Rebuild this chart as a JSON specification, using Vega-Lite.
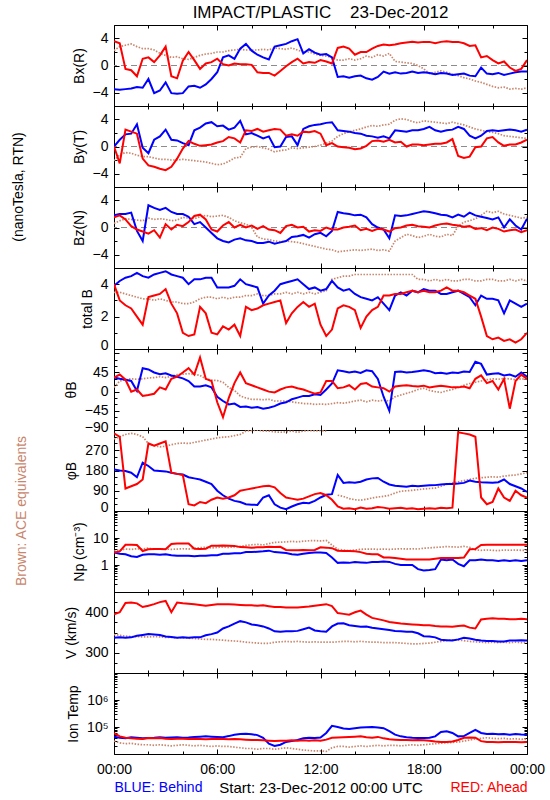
{
"$schema": "https://vega.github.io/schema/vega-lite/v6.json",
"background": "white",
"padding": {"left": 11, "top": 3, "right": 2, "bottom": 2},
"spacing": 0,
"bounds": "flush",
"config": {
  "view": {"stroke": "#000000", "strokeWidth": 1},
  "font": "Liberation Sans",
  "axis": {"domain": false, "grid": false, "labelFont": "Liberation Sans", "labelFontSize": 14, "labelColor": "#000000", "titleFont": "Liberation Sans", "titleFontSize": 14, "titleFontWeight": "normal", "titleColor": "#000000", "tickColor": "#000000", "tickWidth": 1, "labelPadding": 11, "titlePadding": 6, "labelFlush": false, "labelOverlap": false},
  "title": {"font": "Liberation Sans", "fontWeight": "normal", "fontSize": 14, "color": "#000000"}
},
"datasets": {
"bx": [
{"t":0,"b":-3.5,"r":3.6,"a":2.2},{"t":20,"b":-3.6,"r":3.3,"a":2.8},{"t":40,"b":-3.5,"r":-0.5,"a":3.0},{"t":60,"b":-3.4,"r":-0.7,"a":3.2},{"t":80,"b":-3.2,"r":-1.6,"a":2.8},{"t":100,"b":-3.3,"r":1.0,"a":2.5},{"t":120,"b":-2.0,"r":1.2,"a":2.5},{"t":140,"b":-4.1,"r":0.5,"a":2.3},{"t":160,"b":-3.7,"r":1.5,"a":1.8},{"t":180,"b":-2.5,"r":2.8,"a":1.5},
{"t":200,"b":-4.1,"r":-1.6,"a":1.2},{"t":220,"b":-4.2,"r":-1.9,"a":1.3},{"t":240,"b":-4.1,"r":0.7,"a":1.0},{"t":260,"b":-3.1,"r":2.0,"a":0.9},{"t":280,"b":-3.0,"r":0.8,"a":1.2},{"t":300,"b":-3.3,"r":-0.5,"a":1.5},{"t":320,"b":-2.8,"r":0.3,"a":1.7},{"t":340,"b":-2.0,"r":0.5,"a":1.8},{"t":360,"b":-1.0,"r":1.0,"a":2.0},{"t":380,"b":1.2,"r":0.2,"a":2.0},
{"t":400,"b":1.5,"r":0.0,"a":2.2},{"t":420,"b":1.0,"r":0.3,"a":2.3},{"t":440,"b":2.5,"r":0.2,"a":2.4},{"t":460,"b":3.2,"r":0.2,"a":2.3},{"t":480,"b":2.2,"r":0.1,"a":2.3},{"t":500,"b":1.6,"r":-1.0,"a":2.3},{"t":520,"b":1.2,"r":-1.1,"a":2.4},{"t":540,"b":0.9,"r":-1.1,"a":2.3},{"t":560,"b":2.8,"r":-1.5,"a":2.6},{"t":580,"b":3.0,"r":-0.8,"a":2.5},
{"t":600,"b":3.2,"r":-0.1,"a":2.4},{"t":620,"b":3.6,"r":0.5,"a":2.6},{"t":640,"b":3.9,"r":1.0,"a":2.3},{"t":660,"b":1.8,"r":0.3,"a":2.0},{"t":680,"b":2.4,"r":0.5,"a":2.0},{"t":700,"b":1.9,"r":0.4,"a":1.7},{"t":720,"b":1.6,"r":0.8,"a":1.5},{"t":740,"b":1.7,"r":0.6,"a":1.4},{"t":760,"b":1.2,"r":0.3,"a":1.2},{"t":780,"b":-1.7,"r":2.6,"a":0.8},
{"t":800,"b":-1.6,"r":2.8,"a":0.8},{"t":820,"b":-1.8,"r":2.5,"a":1.0},{"t":840,"b":-1.6,"r":1.6,"a":0.8},{"t":860,"b":-1.5,"r":2.0,"a":1.0},{"t":880,"b":-1.9,"r":2.0,"a":1.4},{"t":900,"b":-2.1,"r":2.5,"a":1.2},{"t":920,"b":-1.7,"r":2.9,"a":1.6},{"t":940,"b":-0.9,"r":3.1,"a":1.4},{"t":960,"b":-1.2,"r":3.0,"a":1.8},{"t":980,"b":-1.0,"r":3.1,"a":0.6},
{"t":1000,"b":-1.2,"r":3.3,"a":0.5},{"t":1020,"b":-1.1,"r":3.4,"a":0.4},{"t":1040,"b":-0.9,"r":3.5,"a":0.3},{"t":1060,"b":-1.1,"r":3.4,"a":0.0},{"t":1080,"b":-1.0,"r":3.5,"a":-0.5},{"t":1100,"b":-1.1,"r":3.5,"a":-1.2},{"t":1120,"b":-1.3,"r":3.3,"a":-1.0},{"t":1140,"b":-1.1,"r":3.5,"a":-0.8},{"t":1160,"b":-1.2,"r":3.6,"a":-1.0},{"t":1180,"b":-1.4,"r":3.5,"a":-1.3},
{"t":1200,"b":-1.3,"r":3.5,"a":-1.5},{"t":1220,"b":-1.2,"r":3.3,"a":-1.8},{"t":1240,"b":-1.5,"r":2.9,"a":-2.0},{"t":1260,"b":-1.6,"r":3.0,"a":-2.3},{"t":1280,"b":-0.3,"r":1.2,"a":-2.5},{"t":1300,"b":-1.2,"r":1.4,"a":-2.8},{"t":1320,"b":-1.3,"r":0.8,"a":-3.1},{"t":1340,"b":-1.1,"r":0.3,"a":-3.3},{"t":1360,"b":-1.4,"r":0.6,"a":-3.2},{"t":1380,"b":-1.2,"r":-0.3,"a":-3.5},
{"t":1400,"b":-1.0,"r":-0.8,"a":-3.4},{"t":1420,"b":-0.9,"r":-0.5,"a":-3.5},{"t":1440,"b":-0.9,"r":0.8,"a":-3.3}
],
"by": [
{"t":0,"b":0.0,"r":0.0,"a":-2.1},{"t":20,"b":1.0,"r":-2.5,"a":-1.2},{"t":40,"b":1.8,"r":2.5,"a":-0.9},{"t":60,"b":1.9,"r":2.2,"a":-1.0},{"t":80,"b":3.3,"r":1.9,"a":-1.3},{"t":100,"b":-0.2,"r":-1.8,"a":-1.5},{"t":120,"b":-1.0,"r":-2.8,"a":-1.5},{"t":140,"b":1.0,"r":-3.0,"a":-1.7},{"t":160,"b":1.5,"r":-3.3,"a":-1.9},{"t":180,"b":2.5,"r":-3.5,"a":-1.9},
{"t":200,"b":1.0,"r":-3.0,"a":-2.0},{"t":220,"b":0.9,"r":-1.8,"a":-2.0},{"t":240,"b":0.5,"r":-0.3,"a":-1.9},{"t":260,"b":0.2,"r":0.8,"a":-2.0},{"t":280,"b":2.4,"r":0.4,"a":-2.1},{"t":300,"b":2.8,"r":0.1,"a":-2.2},{"t":320,"b":3.4,"r":0.2,"a":-2.3},{"t":340,"b":3.6,"r":0.3,"a":-2.5},{"t":360,"b":3.0,"r":0.6,"a":-2.7},{"t":380,"b":3.1,"r":0.8,"a":-2.6},
{"t":400,"b":2.5,"r":1.4,"a":-2.2},{"t":420,"b":2.8,"r":1.2,"a":-1.7},{"t":440,"b":3.8,"r":0.6,"a":-1.6},{"t":460,"b":1.8,"r":2.4,"a":-0.3},{"t":480,"b":2.0,"r":2.3,"a":-0.1},{"t":500,"b":1.6,"r":2.6,"a":0.0},{"t":520,"b":1.2,"r":2.2,"a":-0.2},{"t":540,"b":1.5,"r":2.4,"a":-0.4},{"t":560,"b":-0.1,"r":2.6,"a":-0.8},{"t":580,"b":0.0,"r":2.5,"a":-0.6},
{"t":600,"b":1.4,"r":1.6,"a":-0.5},{"t":620,"b":1.5,"r":1.8,"a":-0.2},{"t":640,"b":0.2,"r":1.6,"a":-0.3},{"t":660,"b":2.6,"r":2.2,"a":-0.2},{"t":680,"b":3.0,"r":2.1,"a":-0.1},{"t":700,"b":3.2,"r":2.3,"a":0.0},{"t":720,"b":3.3,"r":1.9,"a":0.2},{"t":740,"b":3.5,"r":0.2,"a":0.5},{"t":760,"b":3.6,"r":0.5,"a":0.8},{"t":780,"b":2.4,"r":0.0,"a":1.5},
{"t":800,"b":2.3,"r":-0.1,"a":1.9},{"t":820,"b":2.2,"r":-0.2,"a":2.2},{"t":840,"b":2.0,"r":-0.4,"a":2.4},{"t":860,"b":1.9,"r":-0.3,"a":2.6},{"t":880,"b":1.6,"r":0.1,"a":2.9},{"t":900,"b":1.5,"r":0.8,"a":3.1},{"t":920,"b":1.3,"r":0.9,"a":3.0},{"t":940,"b":1.5,"r":0.7,"a":3.2},{"t":960,"b":1.2,"r":1.0,"a":3.3},{"t":980,"b":2.4,"r":0.6,"a":3.9},
{"t":1000,"b":2.3,"r":0.7,"a":4.1},{"t":1020,"b":2.2,"r":0.0,"a":4.0},{"t":1040,"b":2.4,"r":0.3,"a":3.7},{"t":1060,"b":2.4,"r":0.3,"a":3.5},{"t":1080,"b":2.6,"r":0.2,"a":3.8},{"t":1100,"b":2.9,"r":0.3,"a":3.7},{"t":1120,"b":2.4,"r":0.4,"a":3.6},{"t":1140,"b":2.2,"r":0.4,"a":3.5},{"t":1160,"b":2.4,"r":0.6,"a":3.4},{"t":1180,"b":2.5,"r":1.1,"a":3.6},
{"t":1200,"b":2.9,"r":-1.4,"a":3.4},{"t":1220,"b":2.6,"r":-1.7,"a":3.2},{"t":1240,"b":1.6,"r":-1.5,"a":2.9},{"t":1260,"b":1.2,"r":-0.1,"a":2.6},{"t":1280,"b":1.6,"r":0.0,"a":2.4},{"t":1300,"b":2.3,"r":1.2,"a":2.2},{"t":1320,"b":2.4,"r":1.4,"a":2.1},{"t":1340,"b":2.3,"r":0.6,"a":1.9},{"t":1360,"b":2.4,"r":0.1,"a":1.6},{"t":1380,"b":2.5,"r":0.3,"a":1.5},
{"t":1400,"b":2.4,"r":0.3,"a":1.4},{"t":1420,"b":2.2,"r":0.6,"a":1.3},{"t":1440,"b":2.5,"r":1.0,"a":1.2}
],
"bz": [
{"t":0,"b":1.8,"r":1.5,"a":0.6},{"t":20,"b":2.0,"r":1.8,"a":1.0},{"t":40,"b":2.0,"r":1.2,"a":1.3},{"t":60,"b":2.2,"r":0.2,"a":1.2},{"t":80,"b":-0.5,"r":-0.3,"a":1.1},{"t":100,"b":-2.0,"r":-0.6,"a":1.0},{"t":120,"b":3.3,"r":-0.9,"a":1.4},{"t":140,"b":2.9,"r":-0.4,"a":1.2},{"t":160,"b":2.6,"r":-1.5,"a":1.3},{"t":180,"b":2.9,"r":0.5,"a":1.2},
{"t":200,"b":2.3,"r":-0.3,"a":1.0},{"t":220,"b":2.0,"r":0.4,"a":1.1},{"t":240,"b":2.0,"r":0.2,"a":1.5},{"t":260,"b":1.6,"r":0.8,"a":1.4},{"t":280,"b":0.5,"r":1.7,"a":1.3},{"t":300,"b":0.8,"r":1.9,"a":1.6},{"t":320,"b":0.0,"r":1.2,"a":1.8},{"t":340,"b":-0.8,"r":-0.3,"a":1.6},{"t":360,"b":-1.6,"r":-0.6,"a":1.7},{"t":380,"b":-2.0,"r":0.3,"a":1.8},
{"t":400,"b":-2.2,"r":0.8,"a":1.5},{"t":420,"b":-1.8,"r":0.0,"a":1.0},{"t":440,"b":-1.6,"r":0.4,"a":0.7},{"t":460,"b":-1.9,"r":0.0,"a":0.5},{"t":480,"b":-2.0,"r":0.3,"a":0.0},{"t":500,"b":-2.3,"r":-0.2,"a":-1.4},{"t":520,"b":-2.3,"r":0.2,"a":-1.7},{"t":540,"b":-2.1,"r":-0.3,"a":-1.8},{"t":560,"b":-2.4,"r":-0.4,"a":-2.0},{"t":580,"b":-2.2,"r":-0.8,"a":-2.1},
{"t":600,"b":-2.0,"r":0.2,"a":-2.0},{"t":620,"b":-1.4,"r":0.4,"a":-2.1},{"t":640,"b":-1.3,"r":0.0,"a":-2.2},{"t":660,"b":-1.1,"r":0.1,"a":-2.4},{"t":680,"b":-1.5,"r":-0.6,"a":-2.6},{"t":700,"b":-1.0,"r":-0.4,"a":-2.8},{"t":720,"b":-0.8,"r":-0.5,"a":-3.0},{"t":740,"b":-1.3,"r":0.0,"a":-3.2},{"t":760,"b":-0.5,"r":-0.3,"a":-3.3},{"t":780,"b":2.3,"r":-0.3,"a":-3.6},
{"t":800,"b":2.1,"r":0.0,"a":-3.5},{"t":820,"b":2.0,"r":0.1,"a":-3.4},{"t":840,"b":1.8,"r":0.3,"a":-3.3},{"t":860,"b":1.9,"r":-0.4,"a":-3.4},{"t":880,"b":1.5,"r":-0.2,"a":-3.3},{"t":900,"b":0.5,"r":-0.5,"a":-3.2},{"t":920,"b":0.0,"r":-0.2,"a":-3.4},{"t":940,"b":-0.3,"r":-0.3,"a":-3.3},{"t":960,"b":-1.6,"r":-0.6,"a":-3.5},{"t":980,"b":1.8,"r":-0.1,"a":-2.0},
{"t":1000,"b":1.7,"r":0.0,"a":-1.5},{"t":1020,"b":1.8,"r":0.3,"a":-1.0},{"t":1040,"b":2.0,"r":0.4,"a":-1.2},{"t":1060,"b":2.2,"r":0.2,"a":-1.5},{"t":1080,"b":2.4,"r":0.1,"a":-1.3},{"t":1100,"b":2.3,"r":0.0,"a":-1.0},{"t":1120,"b":2.1,"r":0.3,"a":-1.3},{"t":1140,"b":1.9,"r":0.5,"a":-1.4},{"t":1160,"b":1.8,"r":0.6,"a":-1.0},{"t":1180,"b":1.5,"r":0.4,"a":-1.2},
{"t":1200,"b":1.9,"r":0.3,"a":0.2},{"t":1220,"b":1.6,"r":0.1,"a":0.8},{"t":1240,"b":2.2,"r":0.2,"a":1.0},{"t":1260,"b":1.8,"r":-0.2,"a":1.3},{"t":1280,"b":1.6,"r":-0.1,"a":1.8},{"t":1300,"b":1.4,"r":-0.4,"a":2.4},{"t":1320,"b":1.2,"r":0.0,"a":2.2},{"t":1340,"b":1.5,"r":-0.2,"a":2.4},{"t":1360,"b":0.0,"r":-0.6,"a":2.0},{"t":1380,"b":1.2,"r":-0.4,"a":1.8},
{"t":1400,"b":0.3,"r":-0.3,"a":1.6},{"t":1420,"b":-0.3,"r":-0.7,"a":1.4},{"t":1440,"b":1.3,"r":-0.4,"a":1.5}
],
"tb": [
{"t":0,"b":3.9,"r":4.0,"a":3.5},{"t":20,"b":4.2,"r":3.0,"a":3.5},{"t":40,"b":4.4,"r":2.7,"a":3.4},{"t":60,"b":4.5,"r":2.5,"a":3.3},{"t":80,"b":4.7,"r":2.0,"a":3.2},{"t":100,"b":4.5,"r":1.5,"a":3.1},{"t":120,"b":4.4,"r":3.2,"a":3.1},{"t":140,"b":4.6,"r":3.3,"a":3.0},{"t":160,"b":4.7,"r":3.4,"a":3.1},{"t":180,"b":4.8,"r":3.7,"a":3.0},
{"t":200,"b":4.6,"r":2.8,"a":2.9},{"t":220,"b":4.5,"r":2.2,"a":2.9},{"t":240,"b":4.4,"r":1.0,"a":2.8},{"t":260,"b":4.0,"r":0.8,"a":2.8},{"t":280,"b":4.3,"r":0.9,"a":2.9},{"t":300,"b":4.3,"r":2.6,"a":3.1},{"t":320,"b":4.4,"r":2.2,"a":3.2},{"t":340,"b":4.4,"r":1.0,"a":3.2},{"t":360,"b":3.8,"r":0.9,"a":3.1},{"t":380,"b":3.8,"r":1.4,"a":3.2},
{"t":400,"b":3.8,"r":1.2,"a":3.1},{"t":420,"b":3.9,"r":1.5,"a":3.2},{"t":440,"b":4.3,"r":0.8,"a":3.2},{"t":460,"b":4.0,"r":2.6,"a":3.3},{"t":480,"b":3.9,"r":2.4,"a":3.3},{"t":500,"b":3.8,"r":2.5,"a":3.4},{"t":520,"b":2.8,"r":2.7,"a":3.3},{"t":540,"b":3.3,"r":2.8,"a":3.3},{"t":560,"b":3.6,"r":2.9,"a":3.4},{"t":580,"b":4.0,"r":3.0,"a":3.4},
{"t":600,"b":4.1,"r":1.6,"a":3.5},{"t":620,"b":4.2,"r":2.2,"a":3.4},{"t":640,"b":4.3,"r":2.6,"a":3.5},{"t":660,"b":4.0,"r":2.9,"a":3.4},{"t":680,"b":3.7,"r":2.6,"a":3.5},{"t":700,"b":3.8,"r":2.8,"a":3.4},{"t":720,"b":3.6,"r":1.5,"a":3.5},{"t":740,"b":3.7,"r":0.8,"a":3.6},{"t":760,"b":4.2,"r":1.2,"a":4.3},{"t":780,"b":3.8,"r":2.5,"a":4.4},
{"t":800,"b":3.6,"r":2.7,"a":4.5},{"t":820,"b":3.7,"r":2.6,"a":4.5},{"t":840,"b":3.4,"r":2.4,"a":4.6},{"t":860,"b":3.2,"r":1.3,"a":4.6},{"t":880,"b":3.1,"r":2.0,"a":4.6},{"t":900,"b":3.0,"r":2.4,"a":4.6},{"t":920,"b":3.2,"r":2.6,"a":4.6},{"t":940,"b":2.8,"r":3.3,"a":4.6},{"t":960,"b":2.4,"r":3.3,"a":4.6},{"t":980,"b":3.3,"r":3.4,"a":4.6},
{"t":1000,"b":3.5,"r":3.4,"a":4.6},{"t":1020,"b":3.3,"r":3.5,"a":4.6},{"t":1040,"b":3.6,"r":3.6,"a":4.6},{"t":1060,"b":3.5,"r":3.5,"a":4.3},{"t":1080,"b":3.7,"r":3.6,"a":4.3},{"t":1100,"b":3.6,"r":3.5,"a":4.2},{"t":1120,"b":3.6,"r":3.5,"a":4.3},{"t":1140,"b":3.4,"r":3.6,"a":4.2},{"t":1160,"b":3.4,"r":3.8,"a":4.3},{"t":1180,"b":3.5,"r":3.6,"a":4.2},
{"t":1200,"b":3.6,"r":3.6,"a":4.2},{"t":1220,"b":3.4,"r":3.5,"a":4.3},{"t":1240,"b":3.2,"r":3.3,"a":4.3},{"t":1260,"b":2.7,"r":3.1,"a":4.2},{"t":1280,"b":3.3,"r":2.0,"a":4.2},{"t":1300,"b":3.1,"r":0.8,"a":4.3},{"t":1320,"b":3.1,"r":0.6,"a":4.3},{"t":1340,"b":3.0,"r":0.7,"a":4.2},{"t":1360,"b":2.2,"r":0.5,"a":4.2},{"t":1380,"b":3.0,"r":0.6,"a":4.3},
{"t":1400,"b":2.8,"r":0.4,"a":4.2},{"t":1420,"b":2.6,"r":0.6,"a":4.3},{"t":1440,"b":2.8,"r":1.0,"a":4.2}
],
"th": [
{"t":0,"b":33,"r":33,"a":10},{"t":20,"b":30,"r":40,"a":25},{"t":40,"b":28,"r":28,"a":28},{"t":60,"b":25,"r":0,"a":30},{"t":80,"b":2,"r":5,"a":29},{"t":100,"b":55,"r":-10,"a":30},{"t":120,"b":52,"r":-8,"a":32},{"t":140,"b":45,"r":-5,"a":33},{"t":160,"b":41,"r":10,"a":35},{"t":180,"b":43,"r":5,"a":33},
{"t":200,"b":38,"r":30,"a":36},{"t":220,"b":35,"r":35,"a":40},{"t":240,"b":31,"r":45,"a":41},{"t":260,"b":25,"r":55,"a":42},{"t":280,"b":12,"r":40,"a":41},{"t":300,"b":12,"r":80,"a":38},{"t":320,"b":15,"r":30,"a":30},{"t":340,"b":10,"r":25,"a":27},{"t":360,"b":-12,"r":-25,"a":26},{"t":380,"b":-22,"r":-60,"a":22},
{"t":400,"b":-30,"r":-15,"a":10},{"t":420,"b":-28,"r":20,"a":3},{"t":440,"b":-36,"r":45,"a":-10},{"t":460,"b":-35,"r":20,"a":-15},{"t":480,"b":-38,"r":15,"a":-18},{"t":500,"b":-36,"r":10,"a":-18},{"t":520,"b":-40,"r":5,"a":-19},{"t":540,"b":-38,"r":0,"a":-18},{"t":560,"b":-34,"r":-2,"a":-22},{"t":580,"b":-28,"r":5,"a":-22},
{"t":600,"b":-25,"r":10,"a":-22},{"t":620,"b":-18,"r":12,"a":-24},{"t":640,"b":-14,"r":8,"a":-26},{"t":660,"b":-10,"r":5,"a":-28},{"t":680,"b":-10,"r":0,"a":-28},{"t":700,"b":-6,"r":-5,"a":-30},{"t":720,"b":-8,"r":-2,"a":-29},{"t":740,"b":5,"r":25,"a":-30},{"t":760,"b":19,"r":25,"a":-28},{"t":780,"b":50,"r":8,"a":-26},
{"t":800,"b":48,"r":10,"a":-27},{"t":820,"b":45,"r":15,"a":-25},{"t":840,"b":47,"r":5,"a":-22},{"t":860,"b":44,"r":18,"a":-20},{"t":880,"b":50,"r":20,"a":-24},{"t":900,"b":48,"r":12,"a":-20},{"t":920,"b":30,"r":10,"a":-22},{"t":940,"b":-12,"r":8,"a":-20},{"t":960,"b":-45,"r":0,"a":-22},{"t":980,"b":46,"r":12,"a":-12},
{"t":1000,"b":47,"r":14,"a":-8},{"t":1020,"b":45,"r":15,"a":-4},{"t":1040,"b":46,"r":13,"a":0},{"t":1060,"b":48,"r":12,"a":5},{"t":1080,"b":50,"r":14,"a":8},{"t":1100,"b":48,"r":10,"a":3},{"t":1120,"b":43,"r":12,"a":0},{"t":1140,"b":44,"r":14,"a":-2},{"t":1160,"b":42,"r":12,"a":2},{"t":1180,"b":45,"r":10,"a":5},
{"t":1200,"b":44,"r":10,"a":10},{"t":1220,"b":47,"r":12,"a":15},{"t":1240,"b":46,"r":8,"a":19},{"t":1260,"b":70,"r":30,"a":22},{"t":1280,"b":65,"r":38,"a":25},{"t":1300,"b":40,"r":20,"a":28},{"t":1320,"b":42,"r":25,"a":30},{"t":1340,"b":43,"r":5,"a":29},{"t":1360,"b":38,"r":30,"a":31},{"t":1380,"b":40,"r":-40,"a":30},
{"t":1400,"b":35,"r":25,"a":28},{"t":1420,"b":45,"r":40,"a":30},{"t":1440,"b":35,"r":30,"a":29}
],
"ph": [
{"t":0,"b":185,"r":345,"a":320},{"t":20,"b":180,"r":330,"a":330},{"t":40,"b":178,"r":100,"a":340},{"t":60,"b":170,"r":110,"a":345},{"t":80,"b":150,"r":120,"a":340},{"t":100,"b":215,"r":140,"a":330},{"t":120,"b":200,"r":300,"a":300},{"t":140,"b":180,"r":290,"a":290},{"t":160,"b":178,"r":300,"a":285},{"t":180,"b":176,"r":310,"a":288},
{"t":200,"b":170,"r":170,"a":295},{"t":220,"b":165,"r":165,"a":300},{"t":240,"b":162,"r":160,"a":302},{"t":260,"b":150,"r":30,"a":300},{"t":280,"b":145,"r":25,"a":305},{"t":300,"b":140,"r":40,"a":310},{"t":320,"b":130,"r":35,"a":315},{"t":340,"b":120,"r":50,"a":320},{"t":360,"b":90,"r":60,"a":325},{"t":380,"b":70,"r":55,"a":328},
{"t":400,"b":55,"r":60,"a":330},{"t":420,"b":45,"r":70,"a":335},{"t":440,"b":40,"r":90,"a":340},{"t":460,"b":30,"r":95,"a":355},{"t":480,"b":28,"r":100,"a":358},{"t":500,"b":27,"r":105,"a":360},{"t":520,"b":60,"r":110,"a":356},{"t":540,"b":70,"r":112,"a":355},{"t":560,"b":30,"r":105,"a":352},{"t":580,"b":15,"r":80,"a":350},
{"t":600,"b":8,"r":60,"a":352},{"t":620,"b":20,"r":55,"a":355},{"t":640,"b":30,"r":50,"a":350},{"t":660,"b":37,"r":55,"a":355},{"t":680,"b":35,"r":65,"a":358},{"t":700,"b":45,"r":75,"a":356},{"t":720,"b":60,"r":80,"a":358},{"t":740,"b":72,"r":70,"a":355},{"t":760,"b":75,"r":50,"a":null},{"t":780,"b":160,"r":20,"a":70},
{"t":800,"b":125,"r":10,"a":65},{"t":820,"b":128,"r":12,"a":55},{"t":840,"b":126,"r":8,"a":50},{"t":860,"b":130,"r":15,"a":48},{"t":880,"b":140,"r":10,"a":52},{"t":900,"b":145,"r":12,"a":58},{"t":920,"b":147,"r":18,"a":62},{"t":940,"b":130,"r":15,"a":65},{"t":960,"b":118,"r":10,"a":70},{"t":980,"b":112,"r":12,"a":80},
{"t":1000,"b":110,"r":14,"a":88},{"t":1020,"b":108,"r":10,"a":90},{"t":1040,"b":112,"r":12,"a":92},{"t":1060,"b":110,"r":8,"a":95},{"t":1080,"b":112,"r":10,"a":98},{"t":1100,"b":114,"r":12,"a":100},{"t":1120,"b":115,"r":10,"a":102},{"t":1140,"b":118,"r":14,"a":110},{"t":1160,"b":120,"r":12,"a":118},{"t":1180,"b":120,"r":15,"a":125},
{"t":1200,"b":122,"r":350,"a":130},{"t":1220,"b":125,"r":345,"a":135},{"t":1240,"b":135,"r":340,"a":140},{"t":1260,"b":130,"r":330,"a":145},{"t":1280,"b":128,"r":60,"a":148},{"t":1300,"b":127,"r":30,"a":150},{"t":1320,"b":126,"r":40,"a":152},{"t":1340,"b":128,"r":100,"a":150},{"t":1360,"b":140,"r":60,"a":155},{"t":1380,"b":120,"r":45,"a":158},
{"t":1400,"b":110,"r":90,"a":160},{"t":1420,"b":100,"r":70,"a":165},{"t":1440,"b":85,"r":60,"a":170}
],
"np": [
{"t":0,"b":2.9,"r":2.9,"a":3.3},{"t":20,"b":2.6,"r":3.2,"a":3.5},{"t":40,"b":2.5,"r":5.6,"a":3.9},{"t":60,"b":2.1,"r":5.6,"a":3.8},{"t":80,"b":2.0,"r":5.5,"a":4.0},{"t":100,"b":2.4,"r":3.3,"a":3.9},{"t":120,"b":2.5,"r":3.8,"a":4.2},{"t":140,"b":2.5,"r":3.9,"a":3.8},{"t":160,"b":2.4,"r":3.9,"a":3.9},{"t":180,"b":2.5,"r":3.8,"a":3.9},
{"t":200,"b":2.3,"r":6.0,"a":3.8},{"t":220,"b":2.2,"r":6.3,"a":3.9},{"t":240,"b":2.2,"r":6.3,"a":4.0},{"t":260,"b":2.2,"r":6.2,"a":3.9},{"t":280,"b":2.1,"r":4.0,"a":4.2},{"t":300,"b":2.2,"r":3.9,"a":4.4},{"t":320,"b":2.2,"r":4.0,"a":4.5},{"t":340,"b":2.3,"r":5.2,"a":4.3},{"t":360,"b":2.3,"r":5.2,"a":4.5},{"t":380,"b":2.6,"r":5.3,"a":4.6},
{"t":400,"b":2.6,"r":5.2,"a":4.5},{"t":420,"b":2.7,"r":5.1,"a":4.7},{"t":440,"b":2.7,"r":4.6,"a":4.9},{"t":460,"b":3.0,"r":4.5,"a":5.3},{"t":480,"b":3.0,"r":4.4,"a":5.6},{"t":500,"b":3.1,"r":4.5,"a":5.8},{"t":520,"b":3.2,"r":4.5,"a":5.5},{"t":540,"b":3.4,"r":4.7,"a":6.2},{"t":560,"b":3.0,"r":4.6,"a":6.9},{"t":580,"b":2.9,"r":4.7,"a":7.0},
{"t":600,"b":2.8,"r":3.6,"a":7.2},{"t":620,"b":2.5,"r":3.5,"a":7.5},{"t":640,"b":2.4,"r":3.5,"a":7.2},{"t":660,"b":2.6,"r":3.6,"a":7.6},{"t":680,"b":2.8,"r":3.5,"a":7.9},{"t":700,"b":2.9,"r":3.6,"a":8.0},{"t":720,"b":2.9,"r":4.5,"a":7.8},{"t":740,"b":2.8,"r":4.4,"a":8.1},{"t":760,"b":1.9,"r":4.2,"a":5.5},{"t":780,"b":1.2,"r":3.4,"a":3.8},
{"t":800,"b":1.25,"r":3.3,"a":3.6},{"t":820,"b":1.2,"r":3.3,"a":3.4},{"t":840,"b":1.3,"r":3.2,"a":3.6},{"t":860,"b":1.25,"r":3.0,"a":3.8},{"t":880,"b":1.2,"r":2.6,"a":3.9},{"t":900,"b":1.3,"r":2.5,"a":3.9},{"t":920,"b":1.3,"r":2.5,"a":3.8},{"t":940,"b":1.35,"r":1.9,"a":3.9},{"t":960,"b":1.3,"r":1.9,"a":3.8},{"t":980,"b":1.1,"r":1.8,"a":3.9},
{"t":1000,"b":1.0,"r":1.7,"a":4.0},{"t":1020,"b":1.0,"r":1.6,"a":3.9},{"t":1040,"b":1.0,"r":1.6,"a":4.0},{"t":1060,"b":0.7,"r":1.6,"a":3.9},{"t":1080,"b":0.63,"r":1.6,"a":4.2},{"t":1100,"b":0.65,"r":1.6,"a":4.3},{"t":1120,"b":0.7,"r":1.7,"a":4.5},{"t":1140,"b":1.6,"r":1.8,"a":4.6},{"t":1160,"b":1.5,"r":1.8,"a":4.8},{"t":1180,"b":1.6,"r":1.8,"a":4.7},
{"t":1200,"b":1.1,"r":1.8,"a":4.6},{"t":1220,"b":0.9,"r":1.9,"a":4.9},{"t":1240,"b":1.5,"r":3.8,"a":4.5},{"t":1260,"b":1.5,"r":3.9,"a":3.6},{"t":1280,"b":1.6,"r":5.5,"a":3.5},{"t":1300,"b":1.5,"r":5.6,"a":3.6},{"t":1320,"b":1.5,"r":5.6,"a":3.5},{"t":1340,"b":1.4,"r":5.6,"a":3.4},{"t":1360,"b":1.5,"r":5.6,"a":3.6},{"t":1380,"b":1.4,"r":5.6,"a":3.5},
{"t":1400,"b":1.5,"r":5.6,"a":3.6},{"t":1420,"b":1.4,"r":5.6,"a":3.5},{"t":1440,"b":1.5,"r":5.6,"a":3.5}
],
"vv": [
{"t":0,"b":337,"r":395,"a":345},{"t":20,"b":338,"r":400,"a":343},{"t":40,"b":337,"r":423,"a":341},{"t":60,"b":338,"r":424,"a":340},{"t":80,"b":342,"r":422,"a":340},{"t":100,"b":344,"r":413,"a":339},{"t":120,"b":346,"r":416,"a":339},{"t":140,"b":345,"r":420,"a":340},{"t":160,"b":344,"r":425,"a":339},{"t":180,"b":340,"r":428,"a":338},
{"t":200,"b":339,"r":400,"a":338},{"t":220,"b":337,"r":424,"a":337},{"t":240,"b":338,"r":422,"a":337},{"t":260,"b":337,"r":421,"a":336},{"t":280,"b":338,"r":420,"a":335},{"t":300,"b":338,"r":418,"a":334},{"t":320,"b":343,"r":416,"a":333},{"t":340,"b":346,"r":418,"a":333},{"t":360,"b":350,"r":420,"a":332},{"t":380,"b":360,"r":420,"a":331},
{"t":400,"b":365,"r":420,"a":330},{"t":420,"b":372,"r":419,"a":329},{"t":440,"b":378,"r":418,"a":328},{"t":460,"b":375,"r":417,"a":326},{"t":480,"b":370,"r":417,"a":325},{"t":500,"b":368,"r":416,"a":324},{"t":520,"b":365,"r":417,"a":323},{"t":540,"b":360,"r":415,"a":323},{"t":560,"b":353,"r":413,"a":326},{"t":580,"b":352,"r":413,"a":327},
{"t":600,"b":353,"r":412,"a":328},{"t":620,"b":353,"r":412,"a":327},{"t":640,"b":354,"r":412,"a":328},{"t":660,"b":358,"r":413,"a":327},{"t":680,"b":362,"r":414,"a":326},{"t":700,"b":355,"r":416,"a":327},{"t":720,"b":353,"r":418,"a":326},{"t":740,"b":352,"r":420,"a":326},{"t":760,"b":365,"r":415,"a":326},{"t":780,"b":372,"r":398,"a":327},
{"t":800,"b":373,"r":396,"a":328},{"t":820,"b":368,"r":394,"a":328},{"t":840,"b":366,"r":400,"a":327},{"t":860,"b":364,"r":404,"a":328},{"t":880,"b":365,"r":394,"a":327},{"t":900,"b":362,"r":386,"a":326},{"t":920,"b":360,"r":383,"a":326},{"t":940,"b":358,"r":380,"a":325},{"t":960,"b":356,"r":376,"a":325},{"t":980,"b":354,"r":374,"a":325},
{"t":1000,"b":353,"r":372,"a":324},{"t":1020,"b":352,"r":371,"a":323},{"t":1040,"b":352,"r":370,"a":322},{"t":1060,"b":348,"r":369,"a":322},{"t":1080,"b":341,"r":368,"a":323},{"t":1100,"b":340,"r":368,"a":324},{"t":1120,"b":338,"r":366,"a":326},{"t":1140,"b":332,"r":365,"a":328},{"t":1160,"b":331,"r":365,"a":330},{"t":1180,"b":330,"r":364,"a":332},
{"t":1200,"b":333,"r":366,"a":331},{"t":1220,"b":337,"r":367,"a":330},{"t":1240,"b":335,"r":362,"a":328},{"t":1260,"b":332,"r":360,"a":327},{"t":1280,"b":330,"r":382,"a":326},{"t":1300,"b":329,"r":384,"a":325},{"t":1320,"b":329,"r":385,"a":326},{"t":1340,"b":328,"r":384,"a":325},{"t":1360,"b":328,"r":384,"a":326},{"t":1380,"b":330,"r":383,"a":325},
{"t":1400,"b":330,"r":383,"a":326},{"t":1420,"b":331,"r":384,"a":325},{"t":1440,"b":330,"r":383,"a":326}
],
"tt": [
{"t":0,"b":44000,"r":60000,"a":30000},{"t":20,"b":40000,"r":45000,"a":26000},{"t":40,"b":38000,"r":40000,"a":24000},{"t":60,"b":42000,"r":38000,"a":25000},{"t":80,"b":40000,"r":37000,"a":23000},{"t":100,"b":38000,"r":36000,"a":22000},{"t":120,"b":39000,"r":39000,"a":22000},{"t":140,"b":40000,"r":38000,"a":21000},{"t":160,"b":42000,"r":39000,"a":22000},{"t":180,"b":40000,"r":37000,"a":21000},
{"t":200,"b":41000,"r":36000,"a":20000},{"t":220,"b":42000,"r":37000,"a":21000},{"t":240,"b":40000,"r":37000,"a":22000},{"t":260,"b":41000,"r":36000,"a":21000},{"t":280,"b":43000,"r":37000,"a":20000},{"t":300,"b":44000,"r":36000,"a":21000},{"t":320,"b":45000,"r":35000,"a":20000},{"t":340,"b":44000,"r":36000,"a":19000},{"t":360,"b":43000,"r":37000,"a":20000},{"t":380,"b":42000,"r":36000,"a":19000},
{"t":400,"b":46000,"r":35000,"a":19000},{"t":420,"b":52000,"r":36000,"a":18000},{"t":440,"b":55000,"r":35000,"a":17000},{"t":460,"b":56000,"r":34000,"a":16000},{"t":480,"b":54000,"r":33000,"a":16000},{"t":500,"b":50000,"r":33000,"a":15000},{"t":520,"b":40000,"r":32000,"a":16000},{"t":540,"b":24000,"r":31000,"a":16000},{"t":560,"b":20000,"r":30000,"a":15000},{"t":580,"b":22000,"r":31000,"a":16000},
{"t":600,"b":28000,"r":31000,"a":17000},{"t":620,"b":30000,"r":32000,"a":16000},{"t":640,"b":33000,"r":31000,"a":15000},{"t":660,"b":38000,"r":32000,"a":14000},{"t":680,"b":40000,"r":31000,"a":13500},{"t":700,"b":39000,"r":32000,"a":13000},{"t":720,"b":41000,"r":31000,"a":13000},{"t":740,"b":60000,"r":34000,"a":12500},{"t":760,"b":110000,"r":40000,"a":17000},{"t":780,"b":100000,"r":41000,"a":19000},
{"t":800,"b":88000,"r":42000,"a":19000},{"t":820,"b":85000,"r":43000,"a":18000},{"t":840,"b":90000,"r":44000,"a":19000},{"t":860,"b":95000,"r":45000,"a":20000},{"t":880,"b":98000,"r":42000,"a":19000},{"t":900,"b":100000,"r":40000,"a":20000},{"t":920,"b":95000,"r":43000,"a":21000},{"t":940,"b":90000,"r":38000,"a":20000},{"t":960,"b":70000,"r":35000,"a":21000},{"t":980,"b":52000,"r":34000,"a":21000},
{"t":1000,"b":45000,"r":33000,"a":20000},{"t":1020,"b":42000,"r":33000,"a":21000},{"t":1040,"b":40000,"r":32000,"a":22000},{"t":1060,"b":39000,"r":33000,"a":21000},{"t":1080,"b":39000,"r":32000,"a":22000},{"t":1100,"b":40000,"r":31000,"a":23000},{"t":1120,"b":45000,"r":29000,"a":24000},{"t":1140,"b":65000,"r":28000,"a":25000},{"t":1160,"b":70000,"r":28000,"a":26000},{"t":1180,"b":60000,"r":29000,"a":27000},
{"t":1200,"b":45000,"r":33000,"a":28000},{"t":1220,"b":46000,"r":40000,"a":30000},{"t":1240,"b":60000,"r":41000,"a":33000},{"t":1260,"b":78000,"r":40000,"a":36000},{"t":1280,"b":60000,"r":30000,"a":38000},{"t":1300,"b":55000,"r":28000,"a":40000},{"t":1320,"b":56000,"r":28000,"a":38000},{"t":1340,"b":54000,"r":27000,"a":37000},{"t":1360,"b":55000,"r":28000,"a":38000},{"t":1380,"b":52000,"r":28000,"a":36000},
{"t":1400,"b":55000,"r":28000,"a":37000},{"t":1420,"b":53000,"r":27000,"a":35000},{"t":1440,"b":52000,"r":28000,"a":36000}
]
},
"vconcat": [
{
 "width": 413, "height": 81, "data": {"name": "bx"},
 "title": {"text": "IMPACT/PLASTIC\u00a0\u00a0\u00a0 23-Dec-2012", "anchor": "middle", "frame": "group", "fontSize": 17, "offset": -3.5},
 "layer": [
  {"mark": {"type": "rule", "color": "#8c8c8c", "strokeDash": [6, 4]}, "encoding": {"y": {"datum": 0, "type": "quantitative", "scale": {"domain": [-6, 6]}, "axis": null}}},
  {"mark": {"type": "line", "color": "#c8866c", "strokeWidth": 1.7, "strokeDash": [1.5, 1.5], "clip": true}, "encoding": {"x": {"field": "t", "type": "quantitative", "scale": {"domain": [0, 1440]}, "axis": null}, "y": {"field": "a", "type": "quantitative", "scale": {"domain": [-6, 6]}, "axis": null}}},
  {"transform": [{"fold": ["b", "r"], "as": ["s", "v"]}], "mark": {"type": "line", "strokeWidth": 2, "clip": true},
   "encoding": {
    "x": {"field": "t", "type": "quantitative", "scale": {"domain": [0, 1440]}, "axis": {"orient": "bottom", "values": [0,120,240,360,480,600,720,840,960,1080,1200,1320,1440], "labels": false, "title": null, "tickSize": {"expr": "datum.value % 360 === 0 ? -5 : -3"}}},
    "y": {"field": "v", "type": "quantitative", "scale": {"domain": [-6, 6]}, "axis": {"orient": "left", "values": [-6,-4,-2,0,2,4,6], "title": "Bx(R)", "tickSize": {"expr": "datum.value % 4 === 0 ? -5 : -3"}, "labelExpr": "datum.value % 4 === 0 && abs(datum.value) < 6 ? datum.label : ''"}},
    "color": {"field": "s", "type": "nominal", "scale": {"domain": ["b", "r"], "range": ["#0000ff", "#ff0000"]}, "legend": null}}},
  {"mark": {"type": "point", "opacity": 0}, "encoding": {
    "x": {"field": "t", "type": "quantitative", "scale": {"domain": [0, 1440]}, "axis": {"orient": "top", "values": [0,120,240,360,480,600,720,840,960,1080,1200,1320,1440], "labels": false, "title": null, "tickSize": {"expr": "datum.value % 360 === 0 ? -5 : -3"}}},
    "y": {"field": "a", "type": "quantitative", "scale": {"domain": [-6, 6]}, "axis": {"orient": "right", "values": [-6,-4,-2,0,2,4,6], "labels": false, "title": null, "tickSize": {"expr": "datum.value % 4 === 0 ? -5 : -3"}}}}}
 ],
 "resolve": {"axis": {"x": "independent", "y": "independent"}}
},
{
 "width": 413, "height": 81, "data": {"name": "by"},
 "title": {"text": "(nanoTesla, RTN)", "orient": "left", "anchor": "middle", "dx": -40.5, "offset": 46, "fontSize": 14},
 "layer": [
  {"mark": {"type": "rule", "color": "#8c8c8c", "strokeDash": [6, 4]}, "encoding": {"y": {"datum": 0, "type": "quantitative", "scale": {"domain": [-6, 6]}, "axis": null}}},
  {"mark": {"type": "line", "color": "#c8866c", "strokeWidth": 1.7, "strokeDash": [1.5, 1.5], "clip": true}, "encoding": {"x": {"field": "t", "type": "quantitative", "scale": {"domain": [0, 1440]}, "axis": null}, "y": {"field": "a", "type": "quantitative", "scale": {"domain": [-6, 6]}, "axis": null}}},
  {"transform": [{"fold": ["b", "r"], "as": ["s", "v"]}], "mark": {"type": "line", "strokeWidth": 2, "clip": true},
   "encoding": {
    "x": {"field": "t", "type": "quantitative", "scale": {"domain": [0, 1440]}, "axis": {"orient": "bottom", "values": [0,120,240,360,480,600,720,840,960,1080,1200,1320,1440], "labels": false, "title": null, "tickSize": {"expr": "datum.value % 360 === 0 ? -5 : -3"}}},
    "y": {"field": "v", "type": "quantitative", "scale": {"domain": [-6, 6]}, "axis": {"orient": "left", "values": [-6,-4,-2,0,2,4,6], "title": "By(T)", "tickSize": {"expr": "datum.value % 4 === 0 ? -5 : -3"}, "labelExpr": "datum.value % 4 === 0 && abs(datum.value) < 6 ? datum.label : ''"}},
    "color": {"field": "s", "type": "nominal", "scale": {"domain": ["b", "r"], "range": ["#0000ff", "#ff0000"]}, "legend": null}}},
  {"mark": {"type": "point", "opacity": 0}, "encoding": {
    "x": {"field": "t", "type": "quantitative", "scale": {"domain": [0, 1440]}, "axis": {"orient": "top", "values": [0,120,240,360,480,600,720,840,960,1080,1200,1320,1440], "labels": false, "title": null, "tickSize": {"expr": "datum.value % 360 === 0 ? -5 : -3"}}},
    "y": {"field": "a", "type": "quantitative", "scale": {"domain": [-6, 6]}, "axis": {"orient": "right", "values": [-6,-4,-2,0,2,4,6], "labels": false, "title": null, "tickSize": {"expr": "datum.value % 4 === 0 ? -5 : -3"}}}}}
 ],
 "resolve": {"axis": {"x": "independent", "y": "independent"}}
},
{
 "width": 413, "height": 81, "data": {"name": "bz"},
 "layer": [
  {"mark": {"type": "rule", "color": "#8c8c8c", "strokeDash": [6, 4]}, "encoding": {"y": {"datum": 0, "type": "quantitative", "scale": {"domain": [-6, 6]}, "axis": null}}},
  {"mark": {"type": "line", "color": "#c8866c", "strokeWidth": 1.7, "strokeDash": [1.5, 1.5], "clip": true}, "encoding": {"x": {"field": "t", "type": "quantitative", "scale": {"domain": [0, 1440]}, "axis": null}, "y": {"field": "a", "type": "quantitative", "scale": {"domain": [-6, 6]}, "axis": null}}},
  {"transform": [{"fold": ["b", "r"], "as": ["s", "v"]}], "mark": {"type": "line", "strokeWidth": 2, "clip": true},
   "encoding": {
    "x": {"field": "t", "type": "quantitative", "scale": {"domain": [0, 1440]}, "axis": {"orient": "bottom", "values": [0,120,240,360,480,600,720,840,960,1080,1200,1320,1440], "labels": false, "title": null, "tickSize": {"expr": "datum.value % 360 === 0 ? -5 : -3"}}},
    "y": {"field": "v", "type": "quantitative", "scale": {"domain": [-6, 6]}, "axis": {"orient": "left", "values": [-6,-4,-2,0,2,4,6], "title": "Bz(N)", "tickSize": {"expr": "datum.value % 4 === 0 ? -5 : -3"}, "labelExpr": "datum.value % 4 === 0 && abs(datum.value) < 6 ? datum.label : ''"}},
    "color": {"field": "s", "type": "nominal", "scale": {"domain": ["b", "r"], "range": ["#0000ff", "#ff0000"]}, "legend": null}}},
  {"mark": {"type": "point", "opacity": 0}, "encoding": {
    "x": {"field": "t", "type": "quantitative", "scale": {"domain": [0, 1440]}, "axis": {"orient": "top", "values": [0,120,240,360,480,600,720,840,960,1080,1200,1320,1440], "labels": false, "title": null, "tickSize": {"expr": "datum.value % 360 === 0 ? -5 : -3"}}},
    "y": {"field": "a", "type": "quantitative", "scale": {"domain": [-6, 6]}, "axis": {"orient": "right", "values": [-6,-4,-2,0,2,4,6], "labels": false, "title": null, "tickSize": {"expr": "datum.value % 4 === 0 ? -5 : -3"}}}}}
 ],
 "resolve": {"axis": {"x": "independent", "y": "independent"}}
},
{
 "width": 413, "height": 81, "data": {"name": "tb"},
 "layer": [
  {"mark": {"type": "line", "color": "#c8866c", "strokeWidth": 1.7, "strokeDash": [1.5, 1.5], "clip": true}, "encoding": {"x": {"field": "t", "type": "quantitative", "scale": {"domain": [0, 1440]}, "axis": null}, "y": {"field": "a", "type": "quantitative", "scale": {"domain": [0, 5]}, "axis": null}}},
  {"transform": [{"fold": ["b", "r"], "as": ["s", "v"]}], "mark": {"type": "line", "strokeWidth": 2, "clip": true},
   "encoding": {
    "x": {"field": "t", "type": "quantitative", "scale": {"domain": [0, 1440]}, "axis": {"orient": "bottom", "values": [0,120,240,360,480,600,720,840,960,1080,1200,1320,1440], "labels": false, "title": null, "tickSize": {"expr": "datum.value % 360 === 0 ? -5 : -3"}}},
    "y": {"field": "v", "type": "quantitative", "scale": {"domain": [0, 5]}, "axis": {"orient": "left", "values": [0,1,2,3,4,5], "title": "total B", "labelOffset": {"expr": "datum.value === 0 ? -4 : 0"}, "tickSize": {"expr": "datum.value % 2 === 0 ? -5 : -3"}, "labelExpr": "datum.value % 2 === 0 ? datum.label : ''"}},
    "color": {"field": "s", "type": "nominal", "scale": {"domain": ["b", "r"], "range": ["#0000ff", "#ff0000"]}, "legend": null}}},
  {"mark": {"type": "point", "opacity": 0}, "encoding": {
    "x": {"field": "t", "type": "quantitative", "scale": {"domain": [0, 1440]}, "axis": {"orient": "top", "values": [0,120,240,360,480,600,720,840,960,1080,1200,1320,1440], "labels": false, "title": null, "tickSize": {"expr": "datum.value % 360 === 0 ? -5 : -3"}}},
    "y": {"field": "a", "type": "quantitative", "scale": {"domain": [0, 5]}, "axis": {"orient": "right", "values": [0,1,2,3,4,5], "labels": false, "title": null, "tickSize": {"expr": "datum.value % 2 === 0 ? -5 : -3"}}}}}
 ],
 "resolve": {"axis": {"x": "independent", "y": "independent"}}
},
{
 "width": 413, "height": 81, "data": {"name": "th"},
 "layer": [
  {"mark": {"type": "line", "color": "#c8866c", "strokeWidth": 1.7, "strokeDash": [1.5, 1.5], "clip": true}, "encoding": {"x": {"field": "t", "type": "quantitative", "scale": {"domain": [0, 1440]}, "axis": null}, "y": {"field": "a", "type": "quantitative", "scale": {"domain": [-90, 100]}, "axis": null}}},
  {"transform": [{"fold": ["b", "r"], "as": ["s", "v"]}], "mark": {"type": "line", "strokeWidth": 2, "clip": true},
   "encoding": {
    "x": {"field": "t", "type": "quantitative", "scale": {"domain": [0, 1440]}, "axis": {"orient": "bottom", "values": [0,120,240,360,480,600,720,840,960,1080,1200,1320,1440], "labels": false, "title": null, "tickSize": {"expr": "datum.value % 360 === 0 ? -5 : -3"}}},
    "y": {"field": "v", "type": "quantitative", "scale": {"domain": [-90, 100]}, "axis": {"orient": "left", "values": [-90,-75,-60,-45,-30,-15,0,15,30,45,60,75,90], "title": "θB", "labelOffset": {"expr": "datum.value === -90 ? -3 : 0"}, "tickSize": {"expr": "datum.value % 45 === 0 ? -5 : -3"}, "labelExpr": "datum.value % 45 === 0 && datum.value < 90 ? datum.label : ''"}},
    "color": {"field": "s", "type": "nominal", "scale": {"domain": ["b", "r"], "range": ["#0000ff", "#ff0000"]}, "legend": null}}},
  {"mark": {"type": "point", "opacity": 0}, "encoding": {
    "x": {"field": "t", "type": "quantitative", "scale": {"domain": [0, 1440]}, "axis": {"orient": "top", "values": [0,120,240,360,480,600,720,840,960,1080,1200,1320,1440], "labels": false, "title": null, "tickSize": {"expr": "datum.value % 360 === 0 ? -5 : -3"}}},
    "y": {"field": "a", "type": "quantitative", "scale": {"domain": [-90, 100]}, "axis": {"orient": "right", "values": [-90,-75,-60,-45,-30,-15,0,15,30,45,60,75,90], "labels": false, "title": null, "tickSize": {"expr": "datum.value % 45 === 0 ? -5 : -3"}}}}}
 ],
 "resolve": {"axis": {"x": "independent", "y": "independent"}}
},
{
 "width": 413, "height": 81, "data": {"name": "ph"},
 "title": {"text": "Brown: ACE equivalents", "orient": "left", "anchor": "middle", "dx": -40.5, "offset": 36, "fontSize": 14, "color": "#c8866c"},
 "layer": [
  {"mark": {"type": "line", "color": "#c8866c", "strokeWidth": 1.7, "strokeDash": [1.5, 1.5], "clip": true, "invalid": "break-paths-show-domains"}, "encoding": {"x": {"field": "t", "type": "quantitative", "scale": {"domain": [0, 1440]}, "axis": null}, "y": {"field": "a", "type": "quantitative", "scale": {"domain": [0, 360]}, "axis": null}}},
  {"transform": [{"fold": ["b", "r"], "as": ["s", "v"]}], "mark": {"type": "line", "strokeWidth": 2, "clip": true},
   "encoding": {
    "x": {"field": "t", "type": "quantitative", "scale": {"domain": [0, 1440]}, "axis": {"orient": "bottom", "values": [0,120,240,360,480,600,720,840,960,1080,1200,1320,1440], "labels": false, "title": null, "tickSize": {"expr": "datum.value % 360 === 0 ? -5 : -3"}}},
    "y": {"field": "v", "type": "quantitative", "scale": {"domain": [0, 360]}, "axis": {"orient": "left", "values": [0,30,60,90,120,150,180,210,240,270,300,330,360], "title": "φB", "labelOffset": {"expr": "datum.value === 0 ? -3.5 : 0"}, "tickSize": {"expr": "datum.value % 90 === 0 ? -5 : -3"}, "labelExpr": "datum.value % 90 === 0 && datum.value < 360 ? datum.label : ''"}},
    "color": {"field": "s", "type": "nominal", "scale": {"domain": ["b", "r"], "range": ["#0000ff", "#ff0000"]}, "legend": null}}},
  {"mark": {"type": "point", "opacity": 0}, "encoding": {
    "x": {"field": "t", "type": "quantitative", "scale": {"domain": [0, 1440]}, "axis": {"orient": "top", "values": [0,120,240,360,480,600,720,840,960,1080,1200,1320,1440], "labels": false, "title": null, "tickSize": {"expr": "datum.value % 360 === 0 ? -5 : -3"}}},
    "y": {"field": "b", "type": "quantitative", "scale": {"domain": [0, 360]}, "axis": {"orient": "right", "values": [0,30,60,90,120,150,180,210,240,270,300,330,360], "labels": false, "title": null, "tickSize": {"expr": "datum.value % 90 === 0 ? -5 : -3"}}}}}
 ],
 "resolve": {"axis": {"x": "independent", "y": "independent"}}
},
{
 "width": 413, "height": 81, "data": {"name": "np"},
 "layer": [
  {"mark": {"type": "line", "color": "#c8866c", "strokeWidth": 1.7, "strokeDash": [1.5, 1.5], "clip": true}, "encoding": {"x": {"field": "t", "type": "quantitative", "scale": {"domain": [0, 1440]}, "axis": null}, "y": {"field": "a", "type": "quantitative", "scale": {"type": "log", "domain": [0.1, 100]}, "axis": null}}},
  {"transform": [{"fold": ["b", "r"], "as": ["s", "v"]}], "mark": {"type": "line", "strokeWidth": 2, "clip": true},
   "encoding": {
    "x": {"field": "t", "type": "quantitative", "scale": {"domain": [0, 1440]}, "axis": {"orient": "bottom", "values": [0,120,240,360,480,600,720,840,960,1080,1200,1320,1440], "labels": false, "title": null, "tickSize": {"expr": "datum.value % 360 === 0 ? -5 : -3"}}},
    "y": {"field": "v", "type": "quantitative", "scale": {"type": "log", "domain": [0.1, 100]}, "axis": {"orient": "left", "values": [0.1,0.2,0.3,0.4,0.5,0.6,0.7,0.8,0.9,1,2,3,4,5,6,7,8,9,10,20,30,40,50,60,70,80,90,100], "title": "Np (cm⁻³)", "tickSize": {"expr": "abs(log(datum.value)/LN10 - round(log(datum.value)/LN10)) < 0.001 ? -5 : -3"}, "labelExpr": "datum.value === 1 ? '1' : datum.value === 10 ? '10' : ''"}},
    "color": {"field": "s", "type": "nominal", "scale": {"domain": ["b", "r"], "range": ["#0000ff", "#ff0000"]}, "legend": null}}},
  {"mark": {"type": "point", "opacity": 0}, "encoding": {
    "x": {"field": "t", "type": "quantitative", "scale": {"domain": [0, 1440]}, "axis": {"orient": "top", "values": [0,120,240,360,480,600,720,840,960,1080,1200,1320,1440], "labels": false, "title": null, "tickSize": {"expr": "datum.value % 360 === 0 ? -5 : -3"}}},
    "y": {"field": "a", "type": "quantitative", "scale": {"type": "log", "domain": [0.1, 100]}, "axis": {"orient": "right", "values": [0.1,0.2,0.3,0.4,0.5,0.6,0.7,0.8,0.9,1,2,3,4,5,6,7,8,9,10,20,30,40,50,60,70,80,90,100], "labels": false, "title": null, "tickSize": {"expr": "abs(log(datum.value)/LN10 - round(log(datum.value)/LN10)) < 0.001 ? -5 : -3"}}}}}
 ],
 "resolve": {"axis": {"x": "independent", "y": "independent"}}
},
{
 "width": 413, "height": 81, "data": {"name": "vv"},
 "layer": [
  {"mark": {"type": "line", "color": "#c8866c", "strokeWidth": 1.7, "strokeDash": [1.5, 1.5], "clip": true}, "encoding": {"x": {"field": "t", "type": "quantitative", "scale": {"domain": [0, 1440]}, "axis": null}, "y": {"field": "a", "type": "quantitative", "scale": {"domain": [250, 450]}, "axis": null}}},
  {"transform": [{"fold": ["b", "r"], "as": ["s", "v"]}], "mark": {"type": "line", "strokeWidth": 2, "clip": true},
   "encoding": {
    "x": {"field": "t", "type": "quantitative", "scale": {"domain": [0, 1440]}, "axis": {"orient": "bottom", "values": [0,120,240,360,480,600,720,840,960,1080,1200,1320,1440], "labels": false, "title": null, "tickSize": {"expr": "datum.value % 360 === 0 ? -5 : -3"}}},
    "y": {"field": "v", "type": "quantitative", "scale": {"domain": [250, 450]}, "axis": {"orient": "left", "values": [250,275,300,325,350,375,400,425,450], "title": "V (km/s)", "tickSize": {"expr": "datum.value % 100 === 0 ? -5 : -3"}, "labelExpr": "datum.value === 300 || datum.value === 400 ? datum.label : ''"}},
    "color": {"field": "s", "type": "nominal", "scale": {"domain": ["b", "r"], "range": ["#0000ff", "#ff0000"]}, "legend": null}}},
  {"mark": {"type": "point", "opacity": 0}, "encoding": {
    "x": {"field": "t", "type": "quantitative", "scale": {"domain": [0, 1440]}, "axis": {"orient": "top", "values": [0,120,240,360,480,600,720,840,960,1080,1200,1320,1440], "labels": false, "title": null, "tickSize": {"expr": "datum.value % 360 === 0 ? -5 : -3"}}},
    "y": {"field": "a", "type": "quantitative", "scale": {"domain": [250, 450]}, "axis": {"orient": "right", "values": [250,275,300,325,350,375,400,425,450], "labels": false, "title": null, "tickSize": {"expr": "datum.value % 100 === 0 ? -5 : -3"}}}}}
 ],
 "resolve": {"axis": {"x": "independent", "y": "independent"}}
},
{
 "width": 413, "height": 81, "data": {"name": "tt"},
 "layer": [
  {"mark": {"type": "line", "color": "#c8866c", "strokeWidth": 1.7, "strokeDash": [1.5, 1.5], "clip": true}, "encoding": {"x": {"field": "t", "type": "quantitative", "scale": {"domain": [0, 1440]}, "axis": null}, "y": {"field": "a", "type": "quantitative", "scale": {"type": "log", "domain": [10000, 10000000]}, "axis": null}}},
  {"transform": [{"fold": ["b", "r"], "as": ["s", "v"]}], "mark": {"type": "line", "strokeWidth": 2, "clip": true},
   "encoding": {
    "x": {"field": "t", "type": "quantitative", "scale": {"domain": [0, 1440]}, "axis": {"orient": "bottom", "values": [0,120,240,360,480,600,720,840,960,1080,1200,1320,1440], "labels": true, "labelPadding": 13.5, "labelExpr": "datum.value % 360 === 0 ? (datum.value === 360 ? '06:00' : datum.value === 720 ? '12:00' : datum.value === 1080 ? '18:00' : '00:00') : ''", "title": "BLUE: Behind", "titleAnchor": "start", "titleColor": "#0000ff", "titleY": 33, "titleBaseline": "middle", "tickSize": {"expr": "datum.value % 360 === 0 ? -5 : -3"}}},
    "y": {"field": "v", "type": "quantitative", "scale": {"type": "log", "domain": [10000, 10000000]}, "axis": {"orient": "left", "values": [10000,20000,30000,40000,50000,60000,70000,80000,90000,100000,200000,300000,400000,500000,600000,700000,800000,900000,1000000,2000000,3000000,4000000,5000000,6000000,7000000,8000000,9000000,10000000], "title": "Ion Temp", "tickSize": {"expr": "abs(log(datum.value)/LN10 - round(log(datum.value)/LN10)) < 0.001 ? -5 : -3"}, "labelExpr": "datum.value === 100000 ? '10⁵' : datum.value === 1000000 ? '10⁶' : ''"}},
    "color": {"field": "s", "type": "nominal", "scale": {"domain": ["b", "r"], "range": ["#0000ff", "#ff0000"]}, "legend": null}}},
  {"mark": {"type": "point", "opacity": 0}, "encoding": {
    "x": {"field": "t", "type": "quantitative", "scale": {"domain": [0, 1440]}, "axis": {"orient": "top", "values": [0,120,240,360,480,600,720,840,960,1080,1200,1320,1440], "labels": false, "title": null, "tickSize": {"expr": "datum.value % 360 === 0 ? -5 : -3"}}},
    "y": {"field": "a", "type": "quantitative", "scale": {"type": "log", "domain": [10000, 10000000]}, "axis": {"orient": "right", "values": [10000,20000,30000,40000,50000,60000,70000,80000,90000,100000,200000,300000,400000,500000,600000,700000,800000,900000,1000000,2000000,3000000,4000000,5000000,6000000,7000000,8000000,9000000,10000000], "labels": false, "title": null, "tickSize": {"expr": "abs(log(datum.value)/LN10 - round(log(datum.value)/LN10)) < 0.001 ? -5 : -3"}}}}},
  {"mark": {"type": "point", "opacity": 0}, "encoding": {
    "x": {"field": "t", "type": "quantitative", "scale": {"domain": [0, 1440]}, "axis": {"orient": "bottom", "ticks": false, "labels": false, "values": [0], "title": "Start: 23-Dec-2012 00:00 UTC", "titleFontSize": 15, "titleY": 33, "titleBaseline": "middle"}},
    "y": {"field": "a", "type": "quantitative", "scale": {"type": "log", "domain": [10000, 10000000]}, "axis": null}}},
  {"mark": {"type": "point", "opacity": 0}, "encoding": {
    "x": {"field": "t", "type": "quantitative", "scale": {"domain": [0, 1440]}, "axis": {"orient": "bottom", "ticks": false, "labels": false, "values": [0], "title": "RED: Ahead", "titleAnchor": "end", "titleColor": "#ff0000", "titleY": 33, "titleBaseline": "middle"}},
    "y": {"field": "a", "type": "quantitative", "scale": {"type": "log", "domain": [10000, 10000000]}, "axis": null}}}
 ],
 "resolve": {"axis": {"x": "independent", "y": "independent"}}
}
]
}
